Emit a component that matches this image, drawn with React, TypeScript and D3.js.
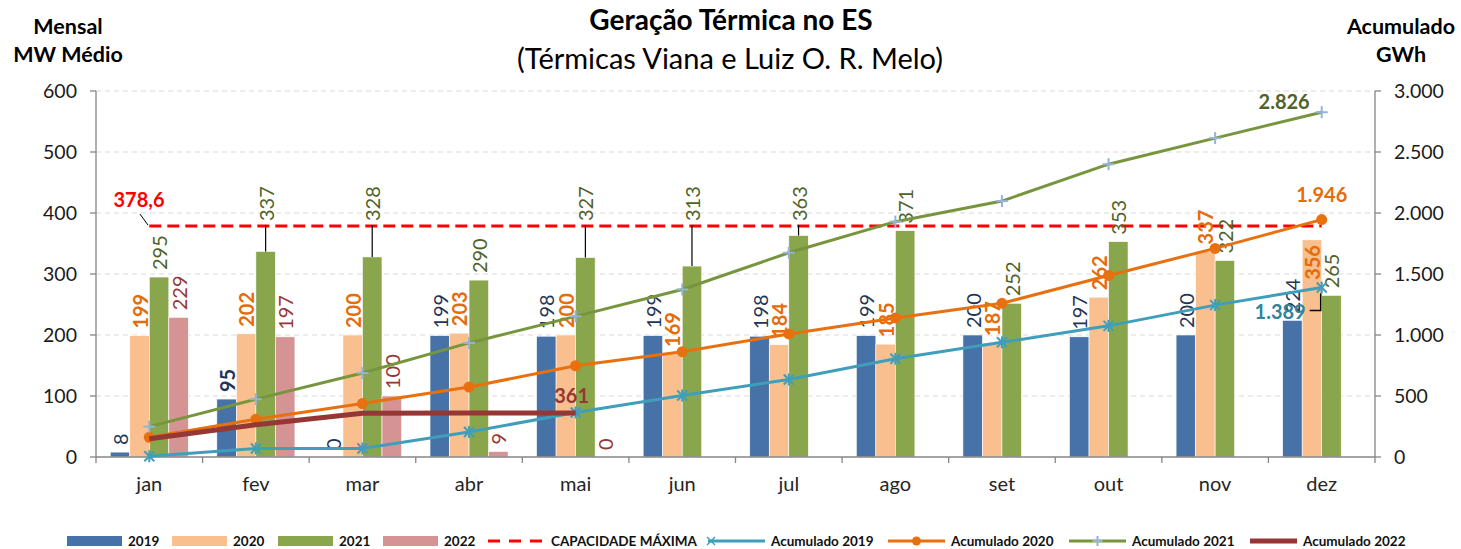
import React, { useEffect, useRef } from 'react';
import * as d3 from 'd3';

// categorias e séries
const months = ['jan', 'fev', 'mar', 'abr', 'mai', 'jun', 'jul', 'ago', 'set', 'out', 'nov', 'dez'];
const years = ['2019', '2020', '2021', '2022'];
const mensal2019 = [8, 95, 0, 199, 198, 199, 198, 199, 200, 197, 200, 224];
const mensal2020 = [199, 202, 200, 203, 200, 169, 184, 185, 187, 262, 337, 356];
const mensal2021 = [295, 337, 328, 290, 327, 313, 363, 371, 252, 353, 322, 265];
const mensal2022 = [229, 197, 100, 9, 0];
const acum2019 = [6, 70, 70, 205, 365, 504, 635, 805, 940, 1075, 1245, 1389];
const acum2020 = [162, 310, 438, 573, 748, 863, 1009, 1140, 1260, 1488, 1710, 1946];
const acum2021 = [249, 474, 688, 935, 1153, 1373, 1674, 1929, 2098, 2400, 2614, 2826];
const acum2022 = [150, 265, 358, 361, 361];
const capacidade = 378.6;
const leftTicks = [0, 100, 200, 300, 400, 500, 600];
const rightTicks = [0, 500, 1000, 1500, 2000, 2500, 3000];
// rótulos de 2021 que foram deslocados acima da linha de capacidade
const raised2021 = ['fev', 'mar', 'mai', 'jun', 'jul'];
const inside2020 = ['dez'];
const bold2019 = ['fev'];

const W = 1461, H = 549;
const FONT = 'Lato, "Open Sans", sans-serif';

const colors: Record<string, string> = {
  '2019': '#4672a8', '2020': '#f9bf8e', '2021': '#8aa64c', '2022': '#d59393',
};
const labelColors: Record<string, string> = {
  '2019': '#1f3557', '2020': '#e46c0a', '2021': '#4f6228', '2022': '#953735',
};

const ptBR = d3.formatLocale({ decimal: ',', thousands: '.', grouping: [3], currency: ['R$', ''] });
const fmtThousands = ptBR.format(',.0f');

const App = () => {
  const ref = useRef<SVGSVGElement>(null);

  useEffect(() => {
    const svg = d3.select(ref.current);
    svg.selectAll('*').remove();

    const left = 96, right = 1375, top = 91, bottom = 457;

    const x = d3.scaleBand().domain(months).range([left, right]).padding(0);
    const xSub = d3.scaleBand().domain(years).range([0, x.bandwidth()]).paddingInner(0).paddingOuter(0.73);
    const yL = d3.scaleLinear().domain([0, 600]).range([bottom, top]);
    const yR = d3.scaleLinear().domain([0, 3000]).range([bottom, top]);
    const cx = (m: string) => (x(m) as number) + x.bandwidth() / 2;

    // grid
    svg.append('g').selectAll('line')
      .data(leftTicks.filter(d => d > 0))
      .enter().append('line')
      .attr('x1', left).attr('x2', right)
      .attr('y1', d => yL(d)).attr('y2', d => yL(d))
      .attr('stroke', '#d9d9d9').attr('stroke-dasharray', '5,4');

    // titles
    svg.append('text').attr('x', 731).attr('y', 30).attr('text-anchor', 'middle')
      .attr('font-family', FONT).attr('font-weight', 'bold').attr('font-size', 28)
      .text('Geração Térmica no ES');
    svg.append('text').attr('x', 730).attr('y', 69).attr('text-anchor', 'middle')
      .attr('font-family', FONT).attr('font-size', 29)
      .text('(Térmicas Viana e Luiz O. R. Melo)');
    const axT = (tx: number, lines: string[]) => lines.forEach((t, i) =>
      svg.append('text').attr('x', tx).attr('y', 34 + i * 28).attr('text-anchor', 'middle')
        .attr('font-family', FONT).attr('font-weight', 'bold').attr('font-size', 21.5).text(t));
    axT(68, ['Mensal', 'MW Médio']);
    axT(1401, ['Acumulado', 'GWh']);

    // bars
    const series: [string, number[]][] = [
      ['2019', mensal2019], ['2020', mensal2020], ['2021', mensal2021], ['2022', mensal2022],
    ];
    series.forEach(([yr, vals]) => {
      svg.append('g').selectAll('rect')
        .data(vals)
        .enter().append('rect')
        .attr('x', (d, i) => (x(months[i]) as number) + (xSub(yr) as number))
        .attr('width', xSub.bandwidth())
        .attr('y', d => yL(d))
        .attr('height', d => bottom - yL(d))
        .attr('fill', colors[yr])
        .attr('stroke', '#ffffff').attr('stroke-width', 0.6);
    });

    // axes
    const axis = svg.append('g').attr('stroke', '#868686').attr('stroke-width', 1.3);
    axis.append('line').attr('x1', left).attr('x2', right).attr('y1', bottom).attr('y2', bottom);
    axis.append('line').attr('x1', left).attr('x2', left).attr('y1', top).attr('y2', bottom);
    axis.append('line').attr('x1', right).attr('x2', right).attr('y1', top).attr('y2', bottom);
    axis.selectAll('.lt').data(leftTicks).enter().append('line')
      .attr('x1', left - 6).attr('x2', left).attr('y1', d => yL(d)).attr('y2', d => yL(d));
    axis.selectAll('.rt').data(rightTicks).enter().append('line')
      .attr('x1', right).attr('x2', right + 6).attr('y1', d => yR(d)).attr('y2', d => yR(d));
    axis.selectAll('.xt').data(months.concat(['end'])).enter().append('line')
      .attr('x1', (d, i) => left + i * x.bandwidth()).attr('x2', (d, i) => left + i * x.bandwidth())
      .attr('y1', bottom).attr('y2', bottom + 6);

    svg.append('g').selectAll('text').data(leftTicks).enter().append('text')
      .attr('x', 77).attr('y', d => yL(d)).attr('dy', '0.35em').attr('text-anchor', 'end')
      .attr('font-family', FONT).attr('font-size', 19.5).attr('fill', '#1a1a1a').text(d => d);
    svg.append('g').selectAll('text').data(rightTicks).enter().append('text')
      .attr('x', 1394).attr('y', d => yR(d)).attr('dy', '0.35em')
      .attr('font-family', FONT).attr('font-size', 19.5).attr('fill', '#1a1a1a').text(d => fmtThousands(d));
    svg.append('g').selectAll('text').data(months).enter().append('text')
      .attr('x', d => cx(d)).attr('y', 491).attr('text-anchor', 'middle')
      .attr('font-family', FONT).attr('font-size', 20).attr('fill', '#262626').text(d => d);

    // capacidade máxima
    const capY = yL(capacidade);
    svg.append('line').attr('x1', cx('jan')).attr('x2', cx('dez')).attr('y1', capY).attr('y2', capY)
      .attr('stroke', '#ff0000').attr('stroke-width', 3).attr('stroke-dasharray', '12,6');
    svg.append('text').attr('x', 139).attr('y', capY - 19).attr('text-anchor', 'middle')
      .attr('font-family', FONT).attr('font-weight', 'bold').attr('font-size', 20).attr('fill', '#ff0000')
      .text(ptBR.format(',.1f')(capacidade));
    svg.append('line').attr('x1', 140).attr('x2', 148).attr('y1', capY - 12).attr('y2', capY - 1)
      .attr('stroke', '#000');

    // rótulos das barras
    series.forEach(([yr, vals]) => {
      const g = svg.append('g');
      vals.forEach((v, i) => {
        const m = months[i];
        const bx = (x(m) as number) + (xSub(yr) as number) + xSub.bandwidth() / 2;
        let by = yL(v) - 7;
        if (yr === '2021' && raised2021.includes(m)) {
          by = capY - 5;
          g.append('line').attr('x1', bx).attr('x2', bx).attr('y1', capY - 1).attr('y2', yL(v))
            .attr('stroke', '#000').attr('stroke-width', 1.2);
        }
        if (yr === '2020' && inside2020.includes(m)) by = yL(v) + 40;
        g.append('text')
          .attr('transform', `translate(${bx},${by}) rotate(-90)`)
          .attr('dominant-baseline', 'central')
          .attr('font-family', FONT).attr('font-size', 20)
          .attr('font-weight', yr === '2020' || (yr === '2019' && bold2019.includes(m)) ? 'bold' : 'normal')
          .attr('fill', labelColors[yr])
          .text(v);
      });
    });

    // linhas acumuladas
    const line = d3.line<number>().x((d, i) => cx(months[i])).y(d => yR(d));
    const lines: [number[], string, number][] = [
      [acum2019, '#3f9fbb', 3], [acum2020, '#e8700f', 3], [acum2021, '#77953d', 3],
    ];
    lines.forEach(([vals, c, w]) => {
      svg.append('path').datum(vals).attr('d', line).attr('fill', 'none')
        .attr('stroke', c).attr('stroke-width', w);
    });
    // marcadores
    const m19 = svg.append('g').attr('stroke', '#3f9fbb').attr('stroke-width', 2);
    acum2019.forEach((v, i) => {
      const px = cx(months[i]), py = yR(v), s = 5;
      m19.append('line').attr('x1', px - s).attr('x2', px + s).attr('y1', py - s).attr('y2', py + s);
      m19.append('line').attr('x1', px - s).attr('x2', px + s).attr('y1', py + s).attr('y2', py - s);
      m19.append('line').attr('x1', px).attr('x2', px).attr('y1', py - s - 1).attr('y2', py + s + 1);
    });
    svg.append('g').selectAll('circle').data(acum2020).enter().append('circle')
      .attr('cx', (d, i) => cx(months[i])).attr('cy', d => yR(d)).attr('r', 5.5)
      .attr('fill', '#e8700f');
    const m21 = svg.append('g').attr('stroke', '#95b3d7').attr('stroke-width', 2);
    acum2021.forEach((v, i) => {
      const px = cx(months[i]), py = yR(v), s = 6;
      m21.append('line').attr('x1', px - s).attr('x2', px + s).attr('y1', py).attr('y2', py);
      m21.append('line').attr('x1', px).attr('x2', px).attr('y1', py - s).attr('y2', py + s);
    });
    svg.append('path').datum(acum2022).attr('d', line).attr('fill', 'none')
      .attr('stroke', '#953735').attr('stroke-width', 5);

    // rótulos finais
    const endLabel = (txt: string, px: number, py: number, c: string, anchor: string) =>
      svg.append('text').attr('x', px).attr('y', py).attr('text-anchor', anchor)
        .attr('font-family', FONT).attr('font-weight', 'bold').attr('font-size', 20).attr('fill', c).text(txt);
    const last = (a: number[]) => a[a.length - 1];
    const xd = cx('dez');
    endLabel(fmtThousands(last(acum2021)), xd - 12, yR(last(acum2021)) - 3, '#4f6228', 'end');
    endLabel(fmtThousands(last(acum2020)), xd, yR(last(acum2020)) - 18, '#e46c0a', 'middle');
    endLabel(fmtThousands(last(acum2019)), xd - 16, yR(last(acum2019)) + 31, '#31849b', 'end');
    svg.append('polyline')
      .attr('points', `${xd - 12},${yR(last(acum2019)) + 23} ${xd - 1},${yR(last(acum2019)) + 23} ${xd - 1},${yR(last(acum2019)) + 6}`)
      .attr('fill', 'none').attr('stroke', '#000').attr('stroke-width', 1.5);
    const xm = cx(months[acum2022.length - 1]);
    endLabel(String(last(acum2022)), xm - 4, yR(last(acum2022)) - 10, '#953735', 'middle');

    // legenda
    const legend: { label: string; kind: string; color: string; x: number }[] = [
      { label: '2019', kind: 'rect', color: colors['2019'], x: 67 },
      { label: '2020', kind: 'rect', color: colors['2020'], x: 172 },
      { label: '2021', kind: 'rect', color: colors['2021'], x: 278 },
      { label: '2022', kind: 'rect', color: colors['2022'], x: 383 },
      { label: 'CAPACIDADE MÁXIMA', kind: 'dash', color: '#ff0000', x: 488 },
      { label: 'Acumulado 2019', kind: 'star', color: '#3f9fbb', x: 708 },
      { label: 'Acumulado 2020', kind: 'dot', color: '#e8700f', x: 888 },
      { label: 'Acumulado 2021', kind: 'plus', color: '#77953d', x: 1069 },
      { label: 'Acumulado 2022', kind: 'thick', color: '#953735', x: 1250 },
    ];
    const ly = 541;
    legend.forEach(it => {
      const g = svg.append('g');
      const sw = it.kind === 'rect' ? 55 : (it.kind === 'thick' ? 47 : 57);
      if (it.kind === 'rect') {
        g.append('rect').attr('x', it.x).attr('y', ly - 5).attr('width', sw).attr('height', 10).attr('fill', it.color);
      } else {
        g.append('line').attr('x1', it.x).attr('x2', it.x + sw).attr('y1', ly).attr('y2', ly)
          .attr('stroke', it.color).attr('stroke-width', it.kind === 'thick' ? 5 : 3)
          .attr('stroke-dasharray', it.kind === 'dash' ? '12,9' : null);
        const mx = it.x + sw / 2;
        if (it.kind === 'dot') g.append('circle').attr('cx', mx).attr('cy', ly).attr('r', 4.5).attr('fill', it.color);
        if (it.kind === 'plus') {
          g.append('line').attr('x1', mx - 5).attr('x2', mx + 5).attr('y1', ly).attr('y2', ly).attr('stroke', '#95b3d7').attr('stroke-width', 2);
          g.append('line').attr('x1', mx).attr('x2', mx).attr('y1', ly - 5).attr('y2', ly + 5).attr('stroke', '#95b3d7').attr('stroke-width', 2);
        }
        if (it.kind === 'star') {
          const sx = it.x + 3;
          g.append('line').attr('x1', sx - 4).attr('x2', sx + 4).attr('y1', ly - 4).attr('y2', ly + 4).attr('stroke', it.color).attr('stroke-width', 1.5);
          g.append('line').attr('x1', sx - 4).attr('x2', sx + 4).attr('y1', ly + 4).attr('y2', ly - 4).attr('stroke', it.color).attr('stroke-width', 1.5);
        }
      }
      g.append('text').attr('x', it.x + sw + 6).attr('y', ly).attr('dy', '0.36em')
        .attr('font-family', FONT).attr('font-weight', 'bold').attr('font-size', 13.5).attr('fill', '#111')
        .text(it.label);
    });
  }, []);

  return (
    <svg ref={ref} width={W} height={H}
      style={{ position: 'absolute', left: 0, top: 0, background: '#fff' }} />
  );
};

export default App;
